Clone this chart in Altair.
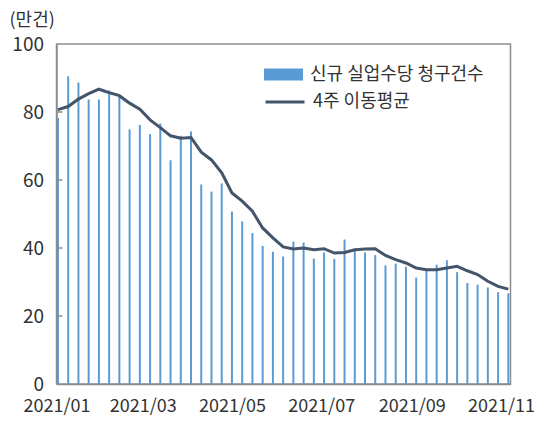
import altair as alt
import pandas as pd

# Weekly new jobless claims (unit: 10,000) and 4-week moving average
start_date = "2021-01-02"
n_weeks = 45
claims = [78.2, 90.5, 88.7, 83.7, 83.7, 86.3, 84.8, 74.9, 76.2, 73.5,
          76.6, 65.8, 73.0, 74.3, 58.7, 56.6, 59.0, 50.7, 47.8, 44.4,
          40.6, 38.9, 37.5, 41.9, 41.6, 36.9, 38.7, 36.8, 42.5, 39.2,
          38.7, 37.9, 34.9, 35.4, 34.5, 31.3, 33.6, 35.1, 36.4, 32.9,
          29.7, 29.2, 28.4, 27.0, 26.7]
ma4 = [80.7, 81.6, 83.8, 85.4, 86.7, 85.7, 84.8, 82.6, 80.8, 77.7,
       75.4, 73.0, 72.3, 72.5, 68.2, 65.9, 62.1, 56.2, 53.8, 50.8,
       45.9, 43.0, 40.3, 39.7, 40.0, 39.5, 39.8, 38.5, 38.7, 39.5,
       39.7, 39.8, 37.8, 36.6, 35.6, 34.1, 33.6, 33.6, 34.1, 34.6,
       33.3, 32.2, 30.2, 28.7, 27.9]
y_ticks = [0, 20, 40, 60, 80, 100]
month_ticks = [1, 3, 5, 7, 9, 11]
bar_label = "신규 실업수당 청구건수"
line_label = "4주 이동평균"

dates = pd.date_range(start_date, periods=n_weeks, freq="7D").strftime("%Y-%m-%d")
df = pd.DataFrame({"date": dates, "claims": claims, "ma": ma4,
                   "s1": bar_label, "s2": line_label})
ticks_df = pd.DataFrame({"v": y_ticks[1:-1]})

FONT = "Noto Sans CJK KR"
TXT = "#333333"
BORDER = "#8c8c8c"
BAR_C = "#5b9bd5"
LINE_C = "#44546a"

x_enc = alt.X(
    "date:T",
    scale=alt.Scale(type="utc", nice=False, padding=0,
                    domain=[alt.DateTime(year=2021, month=1, date=1, utc=True),
                            alt.DateTime(year=2021, month=11, date=7, hours=12, utc=True)]),
    axis=alt.Axis(values=[alt.DateTime(year=2021, month=m, date=1, utc=True) for m in month_ticks],
                  labelExpr="utcFormat(datum.value, '%Y/%m')", title=None, ticks=False,
                  labelPadding=13, labelFontSize=18, labelFont=FONT, labelColor=TXT,
                  labelFlush=False, labelOverlap=False, labelLimit=200, grid=False,
                  domainColor=BORDER, domainWidth=1.5),
)

y_axis = alt.Axis(values=y_ticks, title="(만건)", titleAngle=0, titleAlign="left",
                  titleBaseline="middle", titleX=-47.5, titleY=-24,
                  titleFontSize=18, titleFontWeight="normal", titleFont=FONT, titleColor=TXT,
                  ticks=False, labelPadding=13, labelFontSize=19, labelFont=FONT,
                  labelColor=TXT, grid=False, domainColor=BORDER, domainWidth=1.5)
y_scale = alt.Scale(domain=[0, 100], nice=False)

bars = alt.Chart(df).mark_bar(size=2).encode(
    x=x_enc,
    y=alt.Y("claims:Q", scale=y_scale, axis=y_axis),
    color=alt.Color("s1:N", scale=alt.Scale(domain=[bar_label], range=[BAR_C]),
                    legend=alt.Legend(orient="none", legendX=207.5, legendY=11, title=None,
                                      symbolType="M-1,-0.31H1V0.31H-1Z", symbolSize=1521,
                                      symbolStrokeWidth=0, labelFontSize=18, labelFont=FONT,
                                      labelColor=TXT, labelOffset=7, labelLimit=300, padding=0)),
)

line = alt.Chart(df).mark_line(strokeWidth=3).encode(
    x=x_enc,
    y=alt.Y("ma:Q", scale=y_scale, axis=y_axis),
    stroke=alt.Stroke("s2:N", scale=alt.Scale(domain=[line_label], range=[LINE_C]),
                      legend=alt.Legend(orient="none", legendX=207.5, legendY=37, title=None,
                                        symbolType="stroke", symbolSize=1521,
                                        symbolStrokeWidth=3, labelFontSize=18, labelFont=FONT,
                                        labelColor=TXT, labelOffset=7, labelLimit=300, padding=0)),
)

tick_marks = alt.Chart(ticks_df).mark_rule(color=BORDER, strokeWidth=1.5).encode(
    y=alt.Y("v:Q", scale=y_scale, axis=y_axis),
    x=alt.value(0),
    x2=alt.value(6),
)

chart = alt.layer(bars, line, tick_marks).properties(
    width=454, height=340,
    autosize=alt.AutoSizeParams(type="none"),
    padding={"left": 48.5, "top": 36, "right": 23.5, "bottom": 33},
).configure(font=FONT).configure_view(stroke=BORDER, strokeWidth=1.5)

chart.save("out.html", embed_options={"renderer": "svg", "actions": False})
